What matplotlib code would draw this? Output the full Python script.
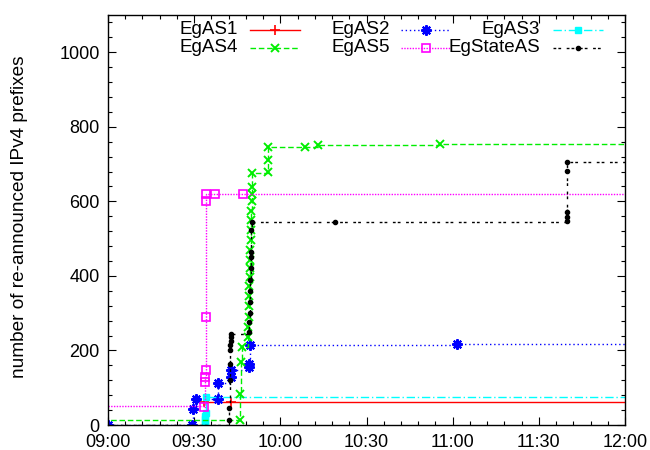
import matplotlib
matplotlib.use("Agg")
import matplotlib.pyplot as plt
import matplotlib.dates as mdates
from matplotlib.lines import Line2D
from datetime import datetime

plt.rcParams['font.family'] = ['Liberation Sans', 'DejaVu Sans']

DAY = "2013-07-03 "

as1_t = ["09:33:20", "09:42:50", "12:10:00"]
as1_v = [62, 62, 62]

as2_t = ["09:00:00", "09:29:10", "09:29:40", "09:30:40", "09:38:20", "09:38:25",
         "09:42:45", "09:42:50", "09:49:10", "09:49:15", "09:49:20", "11:01:30", "12:10:00"]
as2_v = [0, 0, 42, 71, 71, 113, 130, 147, 156, 165, 214, 217, 217]

as3_t = ["09:33:50", "09:33:52", "09:33:54", "09:33:56", "09:33:58", "09:34:00", "12:10:00"]
as3_v = [0, 8, 16, 24, 32, 75, 75]

as4_t = ["08:55:00", "09:46:00", "09:46:05", "09:46:15", "09:46:40", "09:48:50", "09:48:55",
         "09:49:00", "09:49:05", "09:49:10", "09:49:15", "09:49:20", "09:49:25", "09:49:30",
         "09:49:35", "09:49:40", "09:49:45", "09:49:50", "09:49:55", "09:50:00", "09:50:05",
         "09:50:10", "09:50:15", "09:55:40", "09:55:45", "09:55:50", "10:08:30", "10:13:00",
         "10:55:36", "12:10:00"]
as4_v = [13, 13, 83, 169, 210, 235, 262, 290, 318, 345, 372, 398, 420, 442, 470, 497,
         523, 550, 575, 600, 620, 638, 675, 680, 712, 745, 745, 750, 753, 753]

as5_t = ["08:55:00", "09:33:20", "09:33:50", "09:33:55", "09:34:00", "09:34:05", "09:34:10",
         "09:34:15", "09:37:10", "09:46:50", "12:10:00"]
as5_v = [50, 48, 115, 130, 148, 290, 600, 620, 620, 620, 620]

st_t = ["08:55:00", "09:42:10", "09:42:15", "09:42:20", "09:42:25", "09:42:30", "09:42:35",
        "09:42:40", "09:42:45", "09:42:50", "09:49:10", "09:49:15", "09:49:20", "09:49:25",
        "09:49:30", "09:49:35", "09:49:40", "09:49:45", "09:49:50", "09:49:55", "09:50:00",
        "10:19:00", "11:39:40", "11:39:42", "11:39:44", "11:39:46", "11:39:48", "12:10:00"]
st_v = [0, 13, 45, 121, 165, 200, 214, 225, 235, 245, 250, 277, 300, 330, 360, 390, 420,
        451, 464, 523, 545, 545, 548, 558, 572, 681, 706, 706]

labels = ["EgAS1", "EgAS2", "EgAS3", "EgAS4", "EgAS5", "EgStateAS"]


def tt(lst):
    return [datetime.strptime(DAY + s, "%Y-%m-%d %H:%M:%S") for s in lst]


styles = [
    dict(color="#ff0000", ls="-", marker="+", ms=7, mew=1.2),
    dict(color="#0000ff", ls=(0, (1, 2)), marker=(8, 2, 0), ms=7.5, mew=1.5),
    dict(color="#00ffff", ls=(0, (6, 2, 1, 2)), marker="s", ms=5, mew=1.0),
    dict(color="#00ee00", ls=(0, (4, 2)), marker="x", ms=6, mew=1.4),
    dict(color="#ff00ff", ls=(0, (1, 1)), marker="s", ms=6, mew=1.2, mfc="none"),
    dict(color="#000000", ls=(0, (2, 1.5, 2, 4)), marker="o", ms=3, mew=1.0),
]
series = [(as1_t, as1_v), (as2_t, as2_v), (as3_t, as3_v), (as4_t, as4_v), (as5_t, as5_v), (st_t, st_v)]

fig = plt.figure(figsize=(6.5, 4.5), dpi=100)
ax = fig.add_axes([108 / 650, 25 / 450, 517 / 650, 410 / 450])

for (t, v), st, lab in zip(series, styles, labels):
    ax.plot(tt(t), v, drawstyle="steps-post", lw=1.0, label=lab, **st)

ax.set_xlim(datetime(2013, 7, 3, 9, 0), datetime(2013, 7, 3, 12, 0))
ax.set_ylim(0, 1100)
ax.set_yticks([0, 200, 400, 600, 800, 1000])
ax.set_yticks(range(0, 1101, 40), minor=True)
ax.xaxis.set_major_locator(mdates.MinuteLocator(byminute=[0, 30]))
ax.xaxis.set_minor_locator(mdates.MinuteLocator(byminute=range(0, 60, 6)))
ax.xaxis.set_major_formatter(mdates.DateFormatter("%H:%M"))
ax.tick_params(which="both", direction="in", top=True, right=True, labelsize=13, width=0.8)
ax.tick_params(which="major", length=6)
ax.tick_params(axis="x", which="major", pad=6.5)
ax.tick_params(axis="y", which="major", pad=6)
ax.tick_params(which="minor", length=3)
for sp in ax.spines.values():
    sp.set_linewidth(1.0)
ax.set_ylabel("number of re-announced IPv4 prefixes", fontsize=13.7)
ax.yaxis.set_label_coords(-(108 - 28) / 517, (425 - 217) / 410)

# gnuplot-style legend: text right-aligned before the sample
W, H = 517, 410
def fx(px):
    return (px - 108) / W
def fy(py):
    return (425 - py) / H

text_right = [238, 390, 540]
line_start = [250, 401, 553]
line_end = [300, 450, 603]
rows = [30, 48]
order = [[0, 1, 2], [3, 4, 5]]
for r, row in enumerate(order):
    for c, idx in enumerate(row):
        y = fy(rows[r])
        ax.text(fx(text_right[c]), y, labels[idx], transform=ax.transAxes,
                ha="right", va="center", fontsize=13.5)
        st = dict(styles[idx])
        ax.add_line(Line2D([fx(line_start[c]), fx(line_end[c])], [y, y], transform=ax.transAxes,
                           color=st["color"], ls=st["ls"], lw=1.0))
        ax.add_line(Line2D([fx((line_start[c] + line_end[c]) / 2)], [y], transform=ax.transAxes,
                           color=st["color"], marker=st["marker"], ms=st["ms"], mew=st["mew"],
                           mfc=st.get("mfc", st["color"]), ls="none"))

fig.savefig("out.png", dpi=100)
